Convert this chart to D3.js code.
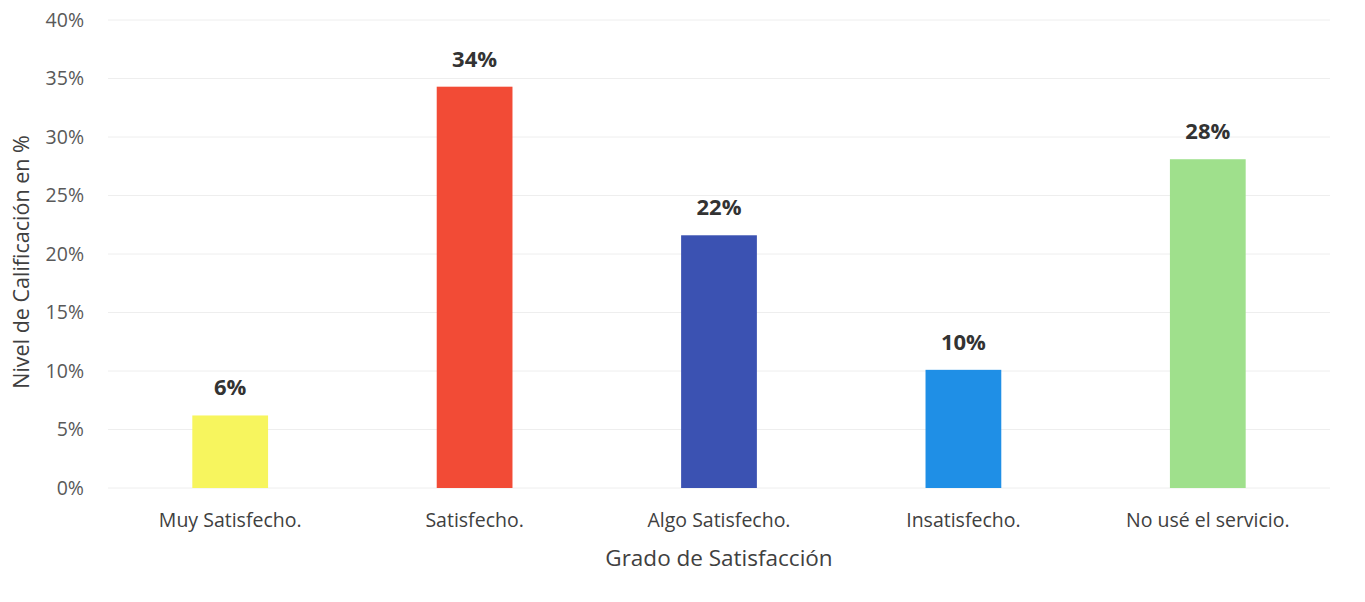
<!DOCTYPE html>
<html>
<head>
<meta charset="utf-8">
<script src="https://cdn.jsdelivr.net/npm/d3@7"></script>
<style>
  body { margin: 0; background: #fff; }
  svg { display: block; font-family: "Open Sans", "Noto Sans", sans-serif; }
</style>
</head>
<body>
<svg id="chart" width="1365" height="602"></svg>
<script>
// Survey results: satisfaction level per answer (share of responses)
const categories = ["Muy Satisfecho.", "Satisfecho.", "Algo Satisfecho.", "Insatisfecho.", "No usé el servicio."];
const values = [0.062, 0.343, 0.216, 0.101, 0.281];
const colors = ["#f7f55e", "#f24b36", "#3b52b2", "#1f8fe6", "#9fe08c"];
const yTicks = [0, 0.05, 0.10, 0.15, 0.20, 0.25, 0.30, 0.35, 0.40];

const svg = d3.select("#chart");
const margin = { left: 108, right: 35, top: 20, bottom: 114 };
const W = 1365, H = 602;
const FONT = '"Open Sans", "Noto Sans", sans-serif';

const x = d3.scaleBand()
  .domain(categories)
  .range([margin.left, W - margin.right])
  .paddingInner(0.69)
  .paddingOuter(0.345);

const y = d3.scaleLinear()
  .domain([0, 0.40])
  .range([H - margin.bottom, margin.top]);

const pct = d3.format(".0%");

// horizontal gridlines
svg.append("g")
  .selectAll("line")
  .data(yTicks)
  .join("line")
  .attr("x1", margin.left)
  .attr("x2", W - margin.right)
  .attr("y1", d => y(d))
  .attr("y2", d => y(d))
  .attr("stroke", "#eeeeee")
  .attr("stroke-width", 1);

// y axis (labels only)
const yAxis = svg.append("g")
  .attr("transform", `translate(${margin.left},0)`)
  .call(d3.axisLeft(y).tickValues(yTicks).tickFormat(pct).tickSize(0).tickPadding(24))
  .attr("font-family", FONT);
yAxis.select(".domain").remove();
yAxis.selectAll("text")
  .attr("fill", "#595959")
  .style("font-size", "19.5px");

// x axis (labels only)
const xAxis = svg.append("g")
  .attr("transform", `translate(0,${y(0)})`)
  .call(d3.axisBottom(x).tickSize(0).tickPadding(25))
  .attr("font-family", FONT);
xAxis.select(".domain").remove();
xAxis.selectAll("text")
  .attr("fill", "#404040")
  .style("font-size", "19.5px");

// bars
svg.append("g")
  .selectAll("rect")
  .data(categories)
  .join("rect")
  .attr("x", d => x(d))
  .attr("width", x.bandwidth())
  .attr("y", (d, i) => y(values[i]))
  .attr("height", (d, i) => y(0) - y(values[i]))
  .attr("fill", (d, i) => colors[i]);

// value labels
svg.append("g")
  .selectAll("text")
  .data(categories)
  .join("text")
  .attr("x", d => x(d) + x.bandwidth() / 2)
  .attr("y", (d, i) => y(values[i]) - 20)
  .attr("text-anchor", "middle")
  .attr("fill", "#333333")
  .style("font-size", "22px")
  .style("font-weight", "bold")
  .text((d, i) => pct(values[i]));

// axis titles
svg.append("text")
  .attr("x", (margin.left + W - margin.right) / 2)
  .attr("y", 566)
  .attr("text-anchor", "middle")
  .attr("fill", "#404040")
  .style("font-size", "22.5px")
  .text("Grado de Satisfacción");

svg.append("text")
  .attr("transform", `translate(29,262) rotate(-90)`)
  .attr("text-anchor", "middle")
  .attr("fill", "#404040")
  .style("font-size", "21.5px")
  .text("Nivel de Calificación en %");
</script>
</body>
</html>
